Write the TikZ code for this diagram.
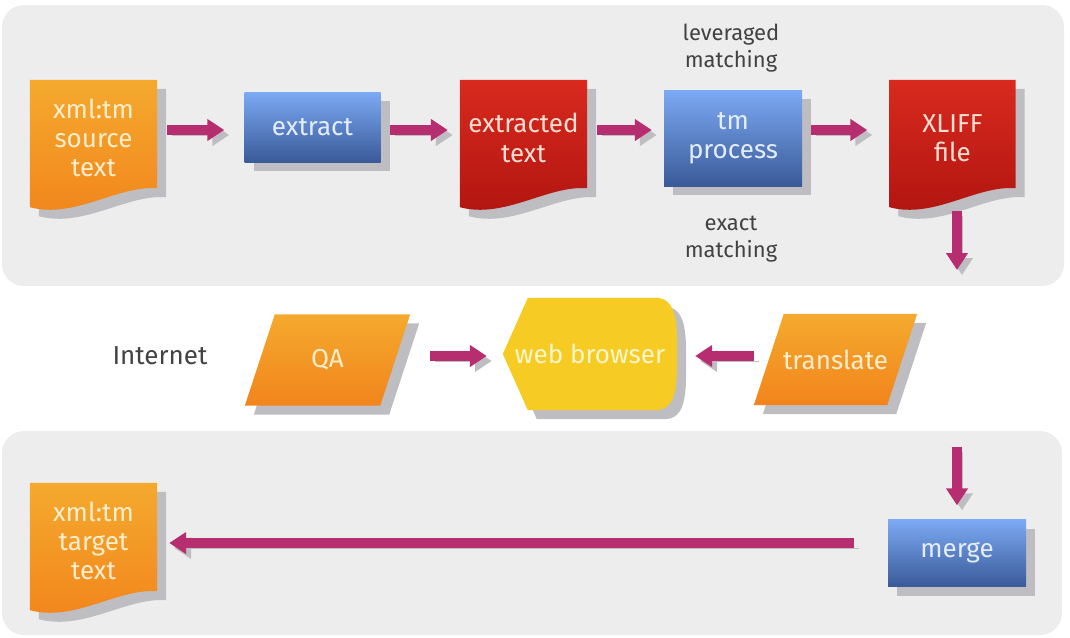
\documentclass[tikz,border=0pt]{standalone}
\usepackage{fontspec}
\setmainfont{Fira Sans}
\usetikzlibrary{arrows.meta,shadows,backgrounds}

\definecolor{panelgray}{RGB}{237,237,237}
\definecolor{shadegray}{RGB}{190,190,194}
\definecolor{flowpink}{RGB}{182,46,112}
\definecolor{orangetop}{RGB}{244,170,46}
\definecolor{orangebot}{RGB}{242,132,28}
\definecolor{redtop}{RGB}{216,42,30}
\definecolor{redbot}{RGB}{176,20,16}
\definecolor{bluetop}{RGB}{124,170,244}
\definecolor{bluebot}{RGB}{58,90,152}
\definecolor{webyellow}{RGB}{246,204,36}
\definecolor{notegray}{RGB}{66,66,66}
\definecolor{txtorange}{RGB}{255,238,205}
\definecolor{txtred}{RGB}{252,222,210}
\definecolor{txtblue}{RGB}{228,236,255}
\definecolor{txtyellow}{RGB}{255,246,205}

% page outline with a wavy foot
\newcommand\docoutline[1]{(#1.north west) -- (#1.north east) -- ([yshift=8pt]#1.south east)
  .. controls +(-40,-3) and +(45,12) .. ([yshift=-11pt]#1.south west) -- cycle}
% pointed left end, round right end
\newcommand\screenoutline[1]{(#1.west) -- ([xshift=25pt]#1.north west) -- ([xshift=-22pt]#1.north east)
  .. controls +(22,0) and +(0,-30) .. (#1.east) .. controls +(0,30) and +(22,0) .. ([xshift=-22pt]#1.south east)
  -- ([xshift=25pt]#1.south west) -- cycle}
% sheared box leaning right
\newcommand\slantoutline[1]{([xshift=-15pt]#1.south west) -- ([xshift=-15pt]#1.south east)
  -- ([xshift=15pt]#1.north east) -- ([xshift=15pt]#1.north west) -- cycle}

\tikzset{
  panel/.style={fill=panelgray, rounded corners=22pt},
  boxshadow/.style={general shadow={fill=shadegray, shadow xshift=9pt, shadow yshift=-9pt}},
  docu/.style={minimum width=127, minimum height=116, inner sep=0pt, align=center},
  orangedoc/.style={boxshadow, top color=orangetop, bottom color=orangebot},
  reddoc/.style={boxshadow, top color=redtop, bottom color=redbot},
  proc/.style={rectangle, boxshadow, top color=bluetop, bottom color=bluebot, text=txtblue, align=center, inner sep=0pt},
  slant/.style={minimum width=135, minimum height=91, inner sep=0pt, text=txtorange},
  note/.style={align=center, text=notegray, font=\fontsize{22}{27}\selectfont},
  flow/.style={line width=10pt, draw=flowpink, -{Triangle[length=17pt,width=21pt]},
    preaction={draw=shadegray, transform canvas={shift={(5pt,-5pt)}}}},
}

\begin{document}
\begin{tikzpicture}[x=1pt, y=-1pt, font=\fontsize{26}{29.3}\selectfont]
  \useasboundingbox (0,0) rectangle (1070,637);

  % arrow rows
  \coordinate (row1) at (0,130);
  \coordinate (row2) at (0,356);
  \coordinate (row3) at (0,543);
  \coordinate (drop) at (957,270);
  \coordinate (rise) at (957,447);

  % extraction row
  \node[docu, text=txtorange] (src) at (93.5,138) {xml:tm\\source\\text};
  \node[proc, minimum width=136, minimum height=70] (ext) at (312.5,127) {extract};
  \node[docu, text=txtred] (xtd) at (523.5,138) {extracted\\text};
  \node[proc, minimum width=138, minimum height=96] (tm) at (733,138) {tm\\process};
  \node[docu, minimum width=126, text=txtred] (xliff) at (952.5,138) {XLIFF\\file};
  \node[note] (lev) at (731,48) {leveraged\\matching};
  \node[note] (exact) at (731,239) {exact\\matching};

  % internet row
  \node[text=notegray] (net) at (160,356) {Internet};
  \node[slant] (qa) at (327.5,360) {QA};
  \node[minimum width=174, minimum height=112, inner sep=0pt, text=txtyellow] (web) at (590,354) {web browser};
  \node[slant, minimum width=133] (trans) at (835.5,359.5) {translate};

  % merge row
  \node[proc, minimum width=138, minimum height=67] (merge) at (957,553) {merge};
  \node[docu, text=txtorange] (tgt) at (93.5,541) {xml:tm\\target\\text};

  \begin{scope}[on background layer]
    \path[panel] (2,5) rectangle (1064,286);
    \path[panel] (2,431) rectangle (1062,635);
    \foreach \d/\s in {src/orangedoc, xtd/reddoc, xliff/reddoc, tgt/orangedoc}
      \path[\s] \docoutline{\d};
    \foreach \d in {qa, trans}
      \path[orangedoc] \slantoutline{\d};
    \path[boxshadow, fill=webyellow] \screenoutline{web};
  \end{scope}

  \draw[flow, shorten <=10pt, shorten >=20pt] (src.east |- row1) -- (ext.west |- row1);
  \draw[flow, shorten <=9pt, shorten >=12pt] (ext.east |- row1) -- (xtd.west |- row1);
  \draw[flow, shorten <=10pt, shorten >=12pt] (xtd.east |- row1) -- (tm.west |- row1);
  \draw[flow, shorten <=9pt, shorten >=22pt] (tm.east |- row1) -- (xliff.west |- row1);
  \draw[flow, shorten <=15pt] (xliff.south -| drop) -- (drop);

  \draw[flow, shorten <=35pt, shorten >=16pt] (qa.east |- row2) -- (web.west |- row2);
  \draw[flow, shorten <=15pt, shorten >=18pt] (trans.west |- row2) -- (web.east |- row2);

  \draw[flow, shorten >=14pt] (rise) -- (merge.north);
  \draw[flow, shorten <=34pt, shorten >=12pt] (merge.west |- row3) -- (tgt.east |- row3);
\end{tikzpicture}
\end{document}
